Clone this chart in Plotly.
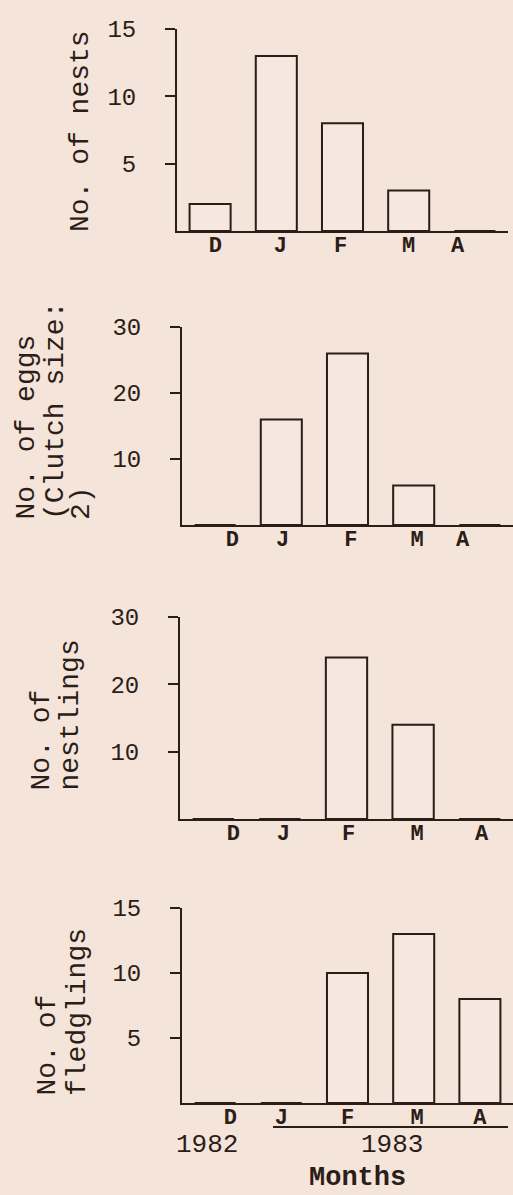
import plotly.graph_objects as go

months = ["D", "J", "F", "M", "A"]
nests = [2, 13, 8, 3, 0]
eggs = [0, 16, 26, 6, 0]
nestlings = [0, 0, 24, 14, 0]
fledglings = [0, 0, 10, 13, 8]

panels = [
    dict(values=nests, ymax=15, ticks=[5, 10, 15], title=["No. of nests"]),
    dict(values=eggs, ymax=30, ticks=[10, 20, 30], title=["No. of eggs", "(Clutch size:", "2)"]),
    dict(values=nestlings, ymax=30, ticks=[10, 20, 30], title=["No. of", "nestlings"]),
    dict(values=fledglings, ymax=15, ticks=[5, 10, 15], title=["No. of", "fledglings"]),
]

# layout (pixel geometry of the page)
W, H = 513, 1195
BG = "#f4e4da"
INK = "#2b1d17"
px_x = [(177, 508), (182, 513), (180, 513), (182, 513)]
px_y = [(231, 29), (525, 327), (819, 617), (1103, 908)]
label_shift = [
    [0.08, 0.06, -0.03, 0.0, -0.26],
    [0.26, 0.02, 0.05, 0.05, -0.26],
    [0.30, 0.05, 0.03, 0.06, 0.03],
    [0.23, 0.0, 0.0, 0.05, 0.0],
]
title_x = [[80], [26, 55, 81], [41, 70], [47, 77]]
title_bottom = [234, 522, 793, 1098]

fig = go.Figure()
annotations = []
for i, p in enumerate(panels):
    n = i + 1
    xa = "x" if n == 1 else f"x{n}"
    ya = "y" if n == 1 else f"y{n}"
    xs = list(range(len(months)))
    fig.add_trace(go.Bar(
        x=xs, y=p["values"], xaxis=xa, yaxis=ya,
        marker=dict(color="rgba(255,250,245,0.18)", line=dict(color=INK, width=2)),
        width=0.62, showlegend=False, hoverinfo="skip",
    ))
    xk = "xaxis" if n == 1 else f"xaxis{n}"
    yk = "yaxis" if n == 1 else f"yaxis{n}"
    x0, x1 = px_x[i]
    yb, yt = px_y[i]
    fig.layout[xk] = dict(
        domain=[x0 / W, min(x1 / W, 1.0)], range=[-0.5, 4.5], anchor=ya,
        automargin=False,
        showline=True, linecolor=INK, linewidth=2, showgrid=False, zeroline=False,
        tickmode="array", tickvals=[k + s for k, s in zip(xs, label_shift[i])],
        ticktext=months, ticks="", ticklabelstandoff=-7, fixedrange=True,
        tickfont=dict(family="Liberation Mono", size=22, color=INK, weight="bold"),
    )
    fig.layout[yk] = dict(
        domain=[1 - yb / H, 1 - yt / H], range=[0, p["ymax"]], anchor=xa,
        automargin=False, fixedrange=True,
        showline=True, linecolor=INK, linewidth=2, showgrid=False, zeroline=False,
        tickmode="array", tickvals=p["ticks"], ticks="outside", ticklen=10,
        tickwidth=2, tickcolor=INK, ticklabelstandoff=24,
        tickfont=dict(family="Liberation Mono", size=24, color=INK),
    )
    for line, xc in zip(p["title"], title_x[i]):
        annotations.append(dict(
            text=line, xref="paper", yref="paper", x=xc / W, y=1 - title_bottom[i] / H,
            xanchor="center", yanchor="bottom", textangle=-90, showarrow=False,
            font=dict(family="Liberation Mono", size=28, color=INK),
        ))

annotations += [
    dict(text="1982", xref="paper", yref="paper", x=207 / W, y=1 - 1145 / H,
         xanchor="center", yanchor="middle", showarrow=False,
         font=dict(family="Liberation Mono", size=26, color=INK)),
    dict(text="1983", xref="paper", yref="paper", x=392 / W, y=1 - 1145 / H,
         xanchor="center", yanchor="middle", showarrow=False,
         font=dict(family="Liberation Mono", size=26, color=INK)),
    dict(text="<b>Months</b>", xref="paper", yref="paper", x=357 / W, y=0,
         xanchor="center", yanchor="bottom", showarrow=False,
         font=dict(family="Liberation Mono", size=27, color=INK)),
]

fig.update_layout(
    template="none",
    width=W, height=H, margin=dict(l=0, r=0, t=0, b=0, pad=0, autoexpand=False),
    paper_bgcolor=BG, plot_bgcolor=BG, bargap=0.38,
    annotations=annotations,
    shapes=[dict(type="line", xref="paper", yref="paper",
                 x0=273 / W, x1=508 / W, y0=1 - 1127 / H, y1=1 - 1127 / H,
                 line=dict(color=INK, width=2))],
)

fig.write_html(
    "out.html",
    config={"displayModeBar": False},
    post_script="document.body.style.margin='0';document.body.style.overflow='hidden';"
                "document.body.style.background='" + BG + "';",
)
